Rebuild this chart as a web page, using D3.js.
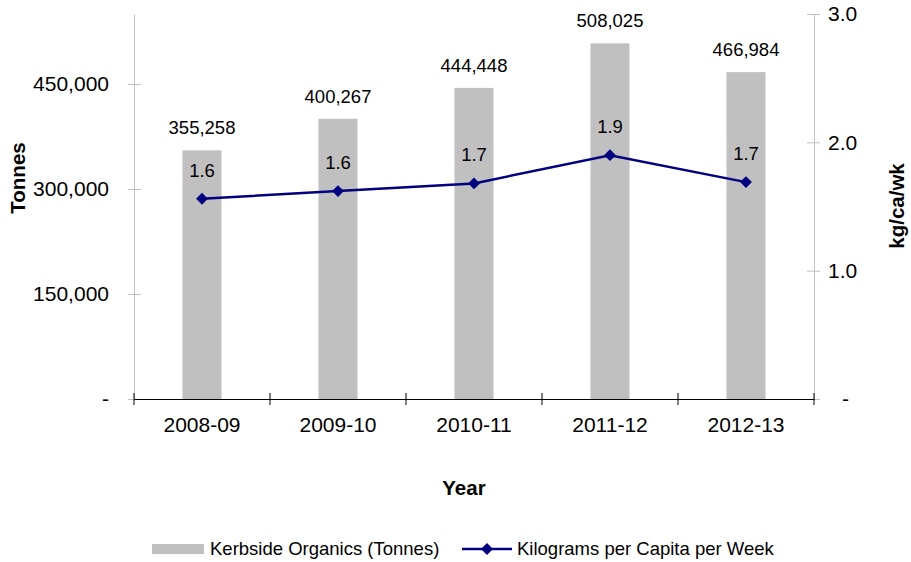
<!DOCTYPE html>
<html>
<head>
<meta charset="utf-8">
<script src="https://cdn.jsdelivr.net/npm/d3@7"></script>
<style>
  body { margin: 0; background: #fff; }
  text { font-family: Arial, "Liberation Sans", sans-serif; fill: #000; }
</style>
</head>
<body>
<script>
// chart data
var years = ["2008-09", "2009-10", "2010-11", "2011-12", "2012-13"];
var tonnes = [355258, 400267, 444448, 508025, 466984];
var kgPerCapita = [1.56, 1.62, 1.68, 1.90, 1.69];
var kgLabels = ["1.6", "1.6", "1.7", "1.9", "1.7"];
var leftTicks = [0, 150000, 300000, 450000];
var rightTicks = [0, 1, 2, 3];

var width = 911, height = 562;
var plotLeft = 134, plotRight = 814, plotTop = 14, plotBottom = 399;

var svg = d3.select("body").append("svg")
    .attr("width", width)
    .attr("height", height);

var x = d3.scaleBand()
    .domain(years)
    .range([plotLeft, plotRight]);

var yL = d3.scaleLinear()
    .domain([0, 550000])
    .range([plotBottom, plotTop]);

var yR = d3.scaleLinear()
    .domain([0, 3])
    .range([plotBottom, plotTop]);

var fmt = d3.format(",");

// left axis
var leftAxis = d3.axisLeft(yL)
    .tickValues(leftTicks)
    .tickSizeInner(6)
    .tickSizeOuter(0)
    .tickPadding(19)
    .tickFormat(function(d) { return d === 0 ? "-" : fmt(d); });

var gL = svg.append("g")
    .attr("transform", "translate(" + plotLeft + ",0)")
    .call(leftAxis);
gL.select(".domain").attr("stroke", "#c0c0c0");
gL.selectAll(".tick line").attr("stroke", "#c0c0c0").attr("x1", 7).attr("x2", -6);
gL.selectAll(".tick text").style("font-size", "21px").attr("font-family", null);

// right axis
var rightAxis = d3.axisRight(yR)
    .tickValues(rightTicks)
    .tickSizeInner(6)
    .tickSizeOuter(0)
    .tickPadding(8)
    .tickFormat(function(d) { return d === 0 ? "-" : d3.format(".1f")(d); });

var gR = svg.append("g")
    .attr("transform", "translate(" + plotRight + ",0)")
    .call(rightAxis);
gR.select(".domain").attr("stroke", "#c0c0c0");
gR.selectAll(".tick line").attr("stroke", "#c0c0c0").attr("x1", -7).attr("x2", 6);
gR.selectAll(".tick text").style("font-size", "21px").attr("font-family", null)
    .attr("dx", function(d) { return d === 0 ? 14 : 0; });

// bars
var barW = 39;
svg.append("g").selectAll("rect")
    .data(years)
    .enter().append("rect")
    .attr("x", function(d) { return x(d) + x.bandwidth() / 2 - barW / 2; })
    .attr("y", function(d, i) { return yL(tonnes[i]); })
    .attr("width", barW)
    .attr("height", function(d, i) { return plotBottom - yL(tonnes[i]); })
    .attr("fill", "#c0c0c0");

// bar labels
svg.append("g").selectAll("text")
    .data(years)
    .enter().append("text")
    .attr("x", function(d) { return x(d) + x.bandwidth() / 2; })
    .attr("y", function(d, i) { return yL(tonnes[i]) - 16; })
    .attr("text-anchor", "middle")
    .style("font-size", "18.5px")
    .text(function(d, i) { return fmt(tonnes[i]); });

// x axis
var bottomAxis = d3.axisBottom(x)
    .tickSize(0)
    .tickPadding(18);

var gX = svg.append("g")
    .attr("transform", "translate(0," + plotBottom + ")")
    .call(bottomAxis);
gX.select(".domain").attr("stroke", "#000");
gX.selectAll(".tick text").style("font-size", "21px").attr("font-family", null);

var edges = years.map(function(d) { return x(d); }).concat([x.range()[1]]);
gX.selectAll(".edge")
    .data(edges)
    .enter().append("line")
    .attr("class", "edge")
    .attr("x1", function(d) { return d; })
    .attr("x2", function(d) { return d; })
    .attr("y1", -6)
    .attr("y2", 6)
    .attr("stroke", "#000");

// line series
var line = d3.line()
    .x(function(d, i) { return x(years[i]) + x.bandwidth() / 2; })
    .y(function(d) { return yR(d); });

svg.append("path")
    .attr("d", line(kgPerCapita))
    .attr("fill", "none")
    .attr("stroke", "#000080")
    .attr("stroke-width", 2.5);

var diamond = d3.symbol().type(d3.symbolDiamond2).size(90);
svg.append("g").selectAll("path")
    .data(kgPerCapita)
    .enter().append("path")
    .attr("d", diamond)
    .attr("transform", function(d, i) {
        return "translate(" + (x(years[i]) + x.bandwidth() / 2) + "," + yR(d) + ") rotate(0)";
    })
    .attr("fill", "#000080");

svg.append("g").selectAll("text")
    .data(kgPerCapita)
    .enter().append("text")
    .attr("x", function(d, i) { return x(years[i]) + x.bandwidth() / 2; })
    .attr("y", function(d) { return yR(d) - 22; })
    .attr("text-anchor", "middle")
    .style("font-size", "18.5px")
    .text(function(d, i) { return kgLabels[i]; });

// axis titles
svg.append("text")
    .attr("transform", "translate(25,178) rotate(-90)")
    .attr("text-anchor", "middle")
    .style("font-size", "20.5px")
    .style("font-weight", "bold")
    .text("Tonnes");

svg.append("text")
    .attr("transform", "translate(904,206) rotate(-90)")
    .attr("text-anchor", "middle")
    .style("font-size", "20.5px")
    .style("font-weight", "bold")
    .text("kg/ca/wk");

svg.append("text")
    .attr("x", 464)
    .attr("y", 495)
    .attr("text-anchor", "middle")
    .style("font-size", "20.5px")
    .style("font-weight", "bold")
    .text("Year");

// legend
var leg = svg.append("g").attr("transform", "translate(0,549)");
leg.append("rect")
    .attr("x", 152).attr("y", -5)
    .attr("width", 52).attr("height", 10)
    .attr("fill", "#c0c0c0");
leg.append("text")
    .attr("x", 210).attr("y", 0).attr("dy", "0.35em")
    .style("font-size", "18.5px")
    .text("Kerbside Organics (Tonnes)");
leg.append("line")
    .attr("x1", 462).attr("x2", 512)
    .attr("y1", 0).attr("y2", 0)
    .attr("stroke", "#000080")
    .attr("stroke-width", 2.5);
leg.append("path")
    .attr("d", diamond)
    .attr("transform", "translate(487,0)")
    .attr("fill", "#000080");
leg.append("text")
    .attr("x", 517).attr("y", 0).attr("dy", "0.35em")
    .style("font-size", "18.5px")
    .text("Kilograms per Capita per Week");
</script>
</body>
</html>
